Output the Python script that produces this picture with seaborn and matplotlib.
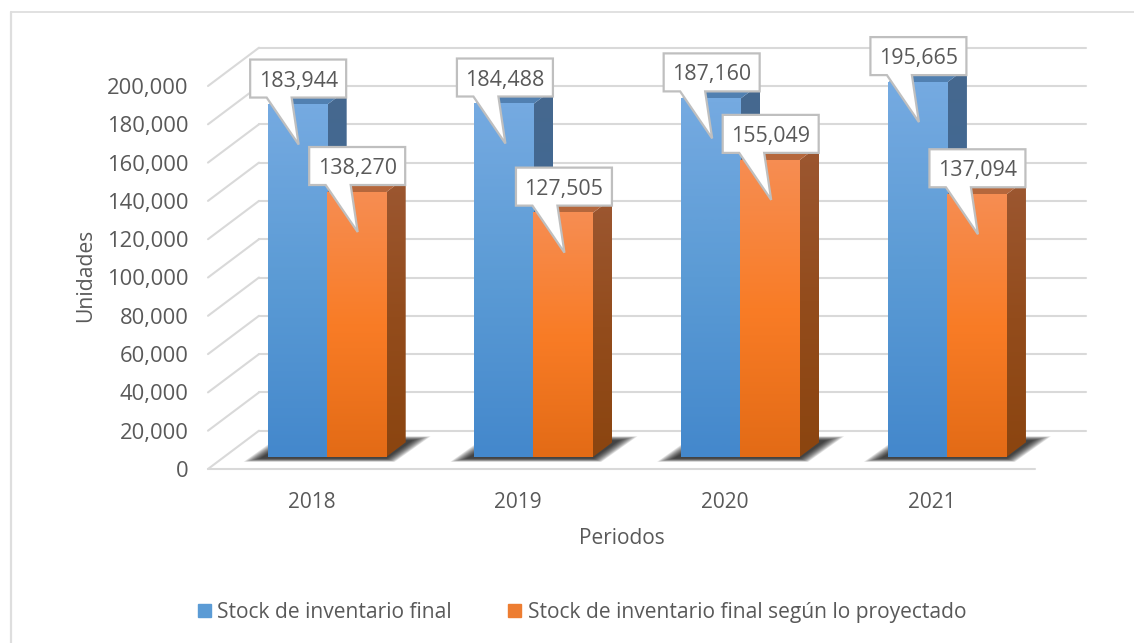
import numpy as np
import pandas as pd
import seaborn as sns
import matplotlib.pyplot as plt
from matplotlib.colors import LinearSegmentedColormap
from matplotlib.lines import Line2D
from matplotlib.patches import Patch, Polygon
from matplotlib.transforms import IdentityTransform

# =========================
# Data
# =========================
periodos = ['2018', '2019', '2020', '2021']
stock_final = [183944, 184488, 187160, 195665]
stock_proyectado = [138270, 127505, 155049, 137094]
serie_final = 'Stock de inventario final'
serie_proyectada = 'Stock de inventario final según lo proyectado'
y_ticks = list(range(0, 200001, 20000))

df = pd.DataFrame({
    'Periodos': periodos * 2,
    'Unidades': stock_final + stock_proyectado,
    'Serie': [serie_final] * 4 + [serie_proyectada] * 4,
})

# =========================
# Style
# =========================
sns.set_theme(style='white')
plt.rcParams['font.family'] = ['Open Sans', 'DejaVu Sans']
TEXT = '#595959'
GRID = '#D9D9D9'
W, H = 1134, 643

front_blue = LinearSegmentedColormap.from_list('fb', ['#4488CC', '#5B9BD5', '#75AAE1'])
front_orange = LinearSegmentedColormap.from_list('fo', ['#E36B16', '#F97C26', '#F68D52'])
side_blue = LinearSegmentedColormap.from_list('sb', ['#33639A', '#3F6795', '#46698F'])
side_orange = LinearSegmentedColormap.from_list('so', ['#8B4510', '#934C1C', '#9C5731'])
ramp = np.linspace(1, 0, 64).reshape(-1, 1)

fig = plt.figure(figsize=(W / 100, H / 100), dpi=100, facecolor='white')


def box(x0, x1, y_bottom, y_top):
    return [x0 / W, 1 - y_bottom / H, (x1 - x0) / W, (y_bottom - y_top) / H]


# =========================
# Walls and axis labels
# =========================
ax = fig.add_axes(box(208, 1035, 469, 86))
ax.set_xlim(-0.5, 3.5)
ax.set_ylim(0, 200000)
ax.patch.set_visible(False)
sns.despine(ax=ax, left=True, bottom=True)

depth_x = 51 / 206.75
depth_y = 20000
for v in y_ticks:
    ax.add_line(Line2D([-0.5, -0.5 + depth_x], [v, v + depth_y], color=GRID, lw=1.5, clip_on=False))
    ax.add_line(Line2D([-0.5 + depth_x, 3.5 + depth_x], [v + depth_y] * 2, color=GRID, lw=1.5, clip_on=False))
ax.add_line(Line2D([-0.5, 3.5], [0, 0], color=GRID, lw=1.5, clip_on=False))

ax.set_xticks(range(4), periodos)
ax.set_yticks(y_ticks, [f'{v:,}' for v in y_ticks])
ax.tick_params(axis='x', length=0, pad=16.5, labelsize=15, labelcolor=TEXT)
ax.tick_params(axis='y', length=0, pad=14, labelsize=15.8, labelcolor=TEXT)
fig.text(622 / W, 1 - 539 / H, 'Periodos', ha='center', va='center', fontsize=15, color=TEXT)
fig.text(86 / W, 1 - 275 / H, 'Unidades', ha='center', va='center', rotation=90, fontsize=15.2, color=TEXT)

# chart frame, only left and top edges show
fig.add_artist(Line2D([10.5 / W, 10.5 / W], [0, 1 - 12 / H], color='#DEDEDE', lw=1.6))
fig.add_artist(Line2D([10.5 / W, 1], [1 - 12 / H] * 2, color='#DEDEDE', lw=1.3))

# =========================
# Bars
# =========================
ax_bars = fig.add_axes(box(208 + 15.3, 1035 + 15.3, 457.3, 457.3 - 383 * 1.15))
ax_bars.patch.set_visible(False)
sns.barplot(
    data=df, x='Periodos', y='Unidades', hue='Serie',
    palette=['#5B9BD5', '#ED7D31'], width=0.571, gap=0, legend=False, ax=ax_bars,
)
ax_bars.set_axis_off()

px_x = 1 / 206.75
px_y = 200000 / 383
bar_dx = 20 * px_x
bar_dy = 15 * px_y


def shade(cmap, extent, zorder, clip=None):
    im = ax_bars.imshow(ramp, cmap=cmap, vmin=0, vmax=1, extent=extent, aspect='auto',
                        interpolation='bilinear', zorder=zorder)
    if clip is not None:
        clip.set_transform(ax_bars.transData)
        im.set_clip_path(clip)


groups = list(zip(ax_bars.containers[0].patches, ax_bars.containers[1].patches))

for blue, orange in groups:
    # floor shadow behind the pair of bars
    x0 = blue.get_x()
    x1 = orange.get_x() + orange.get_width()
    for k in range(12):
        i = k * 1.5
        corners = [
            (x0 + (-24 + i * 1.0) * px_x, (-4.5 + i * 0.2) * px_y),
            (x1 + (9 - i * 0.5) * px_x, (-4.5 + i * 0.2) * px_y),
            (x1 + (45 - i * 1.1) * px_x, (21 - i * 0.25) * px_y),
            (x0 + (12 + i * 0.6) * px_x, (21 - i * 0.25) * px_y),
        ]
        ax_bars.add_patch(Polygon(corners, facecolor='black', edgecolor='none', alpha=0.1,
                                  clip_on=False, zorder=1))

for n, (patches, cmaps, top_color) in enumerate([
    (ax_bars.containers[0].patches, (front_blue, side_blue), '#5180B1'),
    (ax_bars.containers[1].patches, (front_orange, side_orange), '#B5673C'),
]):
    z = 2 + n * 3
    for bar in patches:
        left = bar.get_x()
        right = left + bar.get_width()
        h = bar.get_height()
        side = [(right, 0), (right + bar_dx, bar_dy), (right + bar_dx, h + bar_dy), (right, h)]
        top = [(left, h), (right, h), (right + bar_dx, h + bar_dy), (left + bar_dx, h + bar_dy)]
        shade(cmaps[1], [right, right + bar_dx, 0, h + bar_dy], z, clip=Polygon(side))
        ax_bars.add_patch(Polygon(top, facecolor=top_color, edgecolor='none', clip_on=False, zorder=z + 1))
        shade(cmaps[0], [left, right, 0, h], z + 2)
        bar.set_visible(False)

ax_bars.set_xlim(-0.5, 3.5)
ax_bars.set_ylim(0, 200000 * 1.15)

# =========================
# Callout labels
# =========================
for patches in ax_bars.containers:
    for bar in patches:
        cx = bar.get_x() + bar.get_width() / 2
        h = bar.get_height()
        ax_px, ay_px = ax_bars.transData.transform((cx, h))
        outline = [(-47, 7.5), (-30.5, 7.5), (1.5, -39.5), (-5.5, 7.5), (49, 7.5), (49, 45.5), (-47, 45.5)]
        pts = [(ax_px + a, ay_px + b) for a, b in outline]
        ax_bars.add_patch(Polygon(pts, closed=True, facecolor='white', edgecolor='#BFBFBF', lw=1.6,
                                  transform=IdentityTransform(), clip_on=False, zorder=20))
        ax_bars.annotate(f'{int(h):,}', xy=(cx, h), xytext=(1, 24), textcoords='offset pixels',
                         ha='center', va='center', fontsize=15.4, color=TEXT, zorder=21,
                         annotation_clip=False)

# =========================
# Legend
# =========================
handles = [Patch(color='#5B9BD5', label=serie_final), Patch(color='#ED7D31', label=serie_proyectada)]
fig.legend(
    handles=handles, loc='center left', bbox_to_anchor=(179 / W, 1 - 612.5 / H), ncol=2, frameon=False,
    fontsize=15.1, labelcolor=TEXT, handlelength=0.62, handleheight=0.62, handletextpad=0.3,
    columnspacing=2.7,
)

fig.savefig('out.png', dpi=100)
